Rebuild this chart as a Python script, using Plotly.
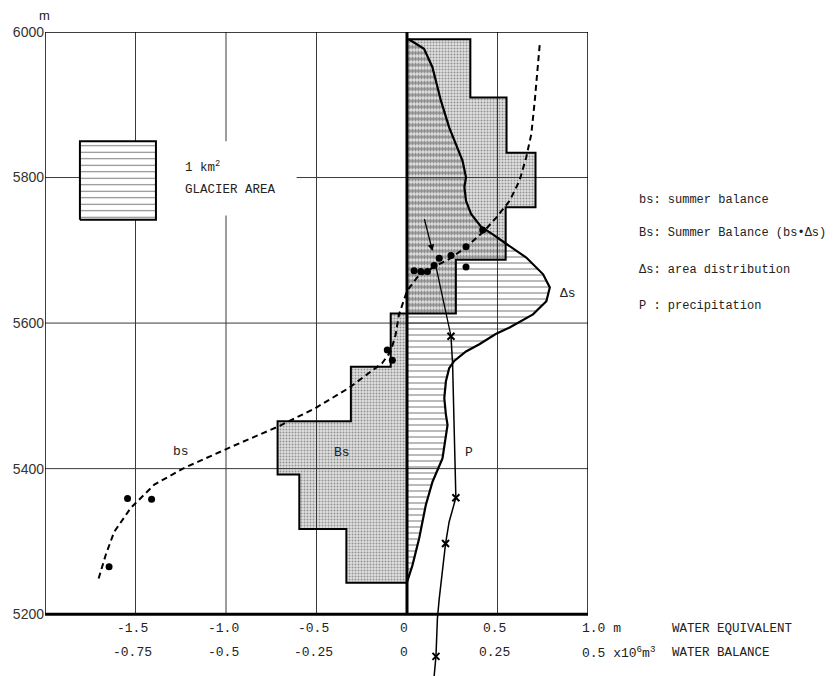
import plotly.graph_objects as go

# ---------------- data ----------------
# Bs : summer balance volume per elevation band (step profile), x10^6 m3 on the 0.5 scale
bs_band_edges = [5243, 5317, 5392, 5465, 5540, 5613, 5687, 5759, 5834, 5910, 5990]
bs_band_values = [-0.335, -0.595, -0.715, -0.31, -0.09, 0.27, 0.545, 0.71, 0.55, 0.35]

# Δs : area distribution curve
ds_elev = [5990, 5977, 5952, 5906, 5869, 5823, 5800, 5787, 5768, 5750, 5732, 5722, 5709,
           5690, 5667, 5649, 5630, 5612, 5594, 5585, 5571, 5561, 5548, 5538, 5520, 5497,
           5474, 5460, 5414, 5382, 5350, 5304, 5267, 5244]
ds_value = [0.01, 0.094, 0.14, 0.187, 0.233, 0.307, 0.326, 0.317, 0.326, 0.354, 0.41, 0.474,
            0.548, 0.659, 0.752, 0.789, 0.77, 0.696, 0.567, 0.49, 0.40, 0.326, 0.261, 0.233,
            0.215, 0.206, 0.215, 0.224, 0.196, 0.141, 0.104, 0.067, 0.03, 0.0]

# bs : summer balance curve (m water equivalent)
bs_elev = [5982, 5952, 5906, 5860, 5828, 5796, 5768, 5745, 5727, 5704, 5688, 5676, 5663,
           5644, 5612, 5584, 5561, 5545, 5511, 5483, 5458, 5430, 5401, 5378, 5346, 5313,
           5281, 5247]
bs_value = [0.733, 0.724, 0.706, 0.687, 0.659, 0.622, 0.567, 0.493, 0.428, 0.326, 0.233,
            0.141, 0.057, 0.0, -0.044, -0.063, -0.09, -0.137, -0.32, -0.507, -0.71, -0.97,
            -1.23, -1.396, -1.526, -1.618, -1.665, -1.706]

# measured bs points
pt_elev = [5672, 5671, 5671, 5679, 5689, 5693, 5705, 5728, 5677, 5563, 5549, 5359, 5358, 5265]
pt_value = [0.039, 0.076, 0.113, 0.15, 0.178, 0.243, 0.326, 0.418, 0.326, -0.109, -0.081,
            -1.544, -1.411, -1.646]

# P : precipitation
p_elev = [5582, 5543, 5451, 5360, 5327, 5297, 5221, 5194, 5142, 5115]
p_value = [0.243, 0.252, 0.261, 0.27, 0.233, 0.213, 0.178, 0.168, 0.16, 0.15]
p_mark_elev = [5582, 5360, 5297, 5142]
p_mark_value = [0.243, 0.27, 0.213, 0.16]

# glacier-area scale box (1 km2)
scale_box_x = [-1.807, -1.387]
scale_box_y = [5742, 5850]

# axes / ticks
elev_ticks = [5200, 5400, 5600, 5800, 6000]
x_grid = [-1.5, -1.0, -0.5, 0.5]
x_tick_vals = [-1.5, -1.0, -0.5, 0, 0.5]
we_labels = ["-1.5", "-1.0", "-0.5", "0", "0.5"]
wb_labels = ["-0.75", "-0.5", "-0.25", "0", "0.25"]
legend_lines = ["bs: summer balance", "Bs: Summer Balance (bs\u2022\u0394s)",
                "\u0394s: area distribution", "P : precipitation"]

X_MIN, X_MAX = -2.0, 1.0
Y_MIN, Y_MAX = 5200, 6000
MONO = "Liberation Mono, Courier New, monospace"
SANS = "Liberation Sans, Arial, sans-serif"

fig = go.Figure()

# Bs step polygon
bx, by = [0], [bs_band_edges[0]]
for i, v in enumerate(bs_band_values):
    bx += [v, v]
    by += [bs_band_edges[i], bs_band_edges[i + 1]]
bx += [0, 0]
by += [bs_band_edges[-1], bs_band_edges[0]]
fig.add_trace(go.Scatter(
    x=bx, y=by, mode="lines", fill="toself",
    fillcolor="rgba(0,0,0,0.18)",
    fillpattern=dict(shape=".", size=3, solidity=0.35, fgcolor="#444",
                     bgcolor="rgba(0,0,0,0.12)"),
    line=dict(color="black", width=2), hoverinfo="skip"))

# Δs hatched area
fig.add_trace(go.Scatter(
    x=[0] + ds_value + [0], y=[ds_elev[0]] + ds_elev + [ds_elev[-1]],
    mode="lines", fill="toself", fillcolor="black",
    fillpattern=dict(shape="-", size=6, solidity=0.18, fgcolor="black",
                     bgcolor="rgba(0,0,0,0)"),
    line=dict(width=0), hoverinfo="skip"))
fig.add_trace(go.Scatter(x=ds_value, y=ds_elev, mode="lines",
                         line=dict(color="black", width=2.2), hoverinfo="skip"))

# glacier area scale box
fig.add_trace(go.Scatter(
    x=[scale_box_x[0], scale_box_x[1], scale_box_x[1], scale_box_x[0], scale_box_x[0]],
    y=[scale_box_y[0], scale_box_y[0], scale_box_y[1], scale_box_y[1], scale_box_y[0]],
    mode="lines", fill="toself", fillcolor="black",
    fillpattern=dict(shape="-", size=6.5, solidity=0.16, fgcolor="black", bgcolor="white"),
    line=dict(color="black", width=2), hoverinfo="skip"))

# bs dashed curve
fig.add_trace(go.Scatter(x=bs_value, y=bs_elev, mode="lines",
                         line=dict(color="black", width=2, dash="6px,4px"),
                         hoverinfo="skip"))
# measured points
fig.add_trace(go.Scatter(x=pt_value, y=pt_elev, mode="markers",
                         marker=dict(color="black", size=7), hoverinfo="skip"))

# P curve
fig.add_trace(go.Scatter(x=p_value, y=p_elev, mode="lines",
                         line=dict(color="black", width=1.5), hoverinfo="skip"))
fig.add_trace(go.Scatter(x=p_mark_value, y=p_mark_elev, mode="markers",
                         marker=dict(symbol="x-thin", size=7, color="black",
                                     line=dict(width=2, color="black")),
                         hoverinfo="skip"))

# ---------------- shapes ----------------
shapes = []
for gx in x_grid:
    shapes.append(dict(type="line", xref="x", yref="y", x0=gx, x1=gx, y0=Y_MIN, y1=Y_MAX,
                       line=dict(color="#3a3a3a", width=1), layer="below"))
for gy in elev_ticks[1:-1]:
    shapes.append(dict(type="line", xref="x", yref="y", x0=X_MIN, x1=X_MAX, y0=gy, y1=gy,
                       line=dict(color="#3a3a3a", width=1), layer="below"))
# white gap behind the scale-box text
shapes.append(dict(type="rect", xref="x", yref="y", x0=-1.39, x1=-0.61, y0=5748, y1=5850,
                   fillcolor="white", line=dict(width=0), layer="below"))
# frame
shapes.append(dict(type="rect", xref="x", yref="y", x0=X_MIN, x1=X_MAX, y0=Y_MIN, y1=Y_MAX,
                   line=dict(color="black", width=1.5), layer="above"))
shapes.append(dict(type="line", xref="x", yref="y", x0=X_MIN, x1=X_MAX, y0=Y_MIN, y1=Y_MIN,
                   line=dict(color="black", width=3), layer="above"))
shapes.append(dict(type="line", xref="x", yref="y", x0=0, x1=0, y0=Y_MIN, y1=Y_MAX,
                   line=dict(color="black", width=3), layer="above"))

# ---------------- annotations ----------------
ann = []
# arrows pointing to the measured points
ann.append(dict(x=0.141, y=5699, ax=0.094, ay=5745, xref="x", yref="y", axref="x",
                ayref="y", text="", showarrow=True, arrowhead=2, arrowsize=1,
                arrowwidth=1.3, arrowcolor="black"))
ann.append(dict(x=0.159, y=5679, ax=0.243, ay=5582, xref="x", yref="y", axref="x",
                ayref="y", text="", showarrow=True, arrowhead=0, arrowwidth=1.3,
                arrowcolor="black"))

# in-plot labels
for txt, xv, yv in [("bs", -1.25, 5423), ("Bs", -0.361, 5422), ("P", 0.344, 5422),
                    ("\u0394s", 0.889, 5641)]:
    ann.append(dict(x=xv, y=yv, xref="x", yref="y", text=txt, showarrow=False,
                    font=dict(family=MONO, size=13, color="#222")))

# scale-box text
ann.append(dict(x=-1.24, y=5815, xref="x", yref="y", text="1 km<sup>2</sup>",
                showarrow=False, xanchor="left", font=dict(family=MONO, size=12.5, color="#222")))
ann.append(dict(x=-1.24, y=5783, xref="x", yref="y", text="GLACIER AREA",
                showarrow=False, xanchor="left", font=dict(family=MONO, size=12.5, color="#222")))

# y unit
ann.append(dict(x=-0.015, y=1.026, xref="paper", yref="paper", text="m", showarrow=False,
                yanchor="middle", font=dict(family=SANS, size=13, color="#222")))

# x tick labels (two scales)
for xv, t1, t2 in zip(x_tick_vals, we_labels, wb_labels):
    ann.append(dict(x=xv, y=0.073, xref="x", yref="paper", text=t1, showarrow=False,
                    xshift=-3, yanchor="middle", font=dict(family=MONO, size=13, color="#222")))
    ann.append(dict(x=xv, y=0.036, xref="x", yref="paper", text=t2, showarrow=False,
                    xshift=-3, yanchor="middle", font=dict(family=MONO, size=13, color="#222")))
ann.append(dict(x=0.985, y=0.073, xref="paper", yref="paper", text="1.0 m", xanchor="left",
                yanchor="middle", showarrow=False, font=dict(family=MONO, size=13, color="#222")))
ann.append(dict(x=0.985, y=0.036, xref="paper", yref="paper",
                text="0.5 x10<sup>6</sup>m<sup>3</sup>", xanchor="left", yanchor="middle",
                showarrow=False, font=dict(family=MONO, size=13, color="#222")))
ann.append(dict(x=1.151, y=0.073, xref="paper", yref="paper", text="WATER EQUIVALENT",
                xanchor="left", yanchor="middle", showarrow=False,
                font=dict(family=MONO, size=12.5, color="#222")))
ann.append(dict(x=1.151, y=0.036, xref="paper", yref="paper", text="WATER BALANCE",
                xanchor="left", yanchor="middle", showarrow=False,
                font=dict(family=MONO, size=12.5, color="#222")))

# legend text
for txt, yp in zip(legend_lines, [0.739, 0.688, 0.630, 0.5745]):
    ann.append(dict(x=1.09, y=yp, xref="paper", yref="paper", text=txt, xanchor="left",
                    yanchor="middle", showarrow=False,
                    font=dict(family=MONO, size=12, color="#222")))

fig.update_layout(
    width=826, height=668,
    margin=dict(l=37, r=246, t=24, b=0),
    plot_bgcolor="white", paper_bgcolor="white",
    showlegend=False,
    shapes=shapes, annotations=ann,
    xaxis=dict(range=[X_MIN, X_MAX], showgrid=False, zeroline=False, showline=False,
               showticklabels=False, ticks="", automargin=False, fixedrange=True),
    yaxis=dict(range=[5115, Y_MAX], showgrid=False, zeroline=False, showline=False,
               tickvals=elev_ticks, ticktext=[str(v) for v in elev_ticks], ticks="",
               tickfont=dict(family=SANS, size=14, color="#333"),
               automargin=False, fixedrange=True),
)

fig.write_html("out.html")
